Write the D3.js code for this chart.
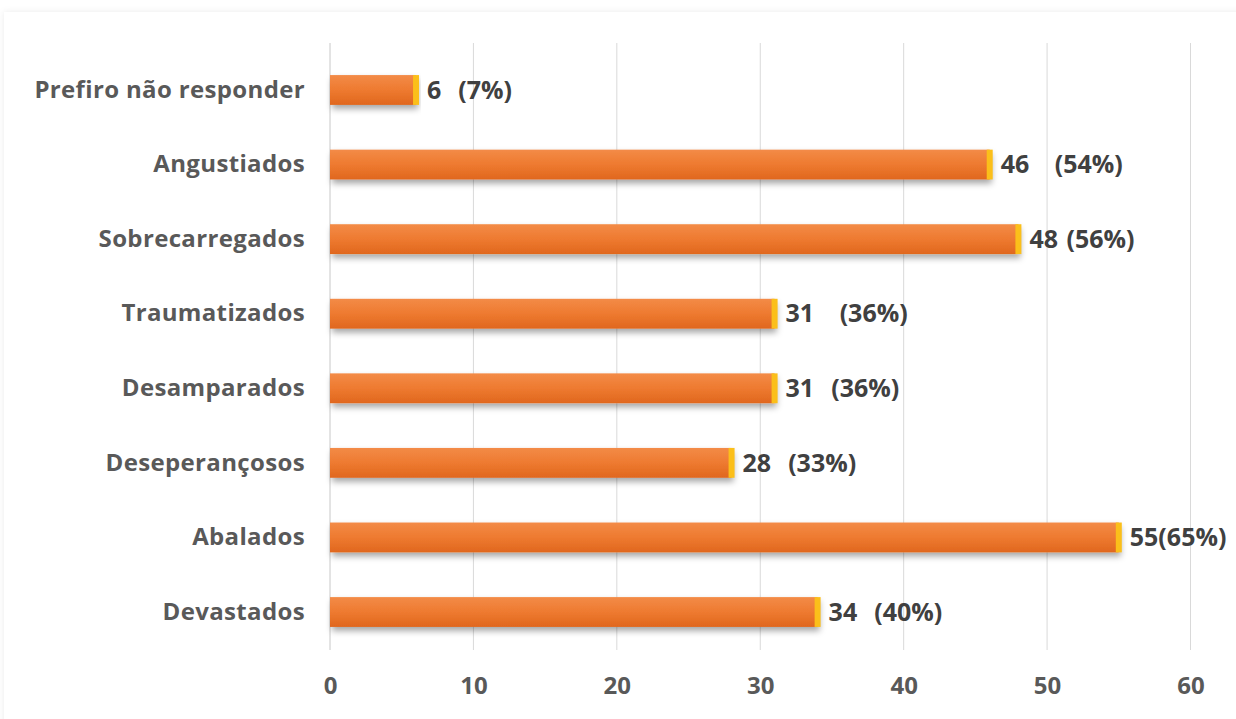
<!DOCTYPE html>
<html><head><meta charset="utf-8">
<script src="https://cdn.jsdelivr.net/npm/d3@7"></script>
<style>body{margin:0;background:#fff;} text{font-family:"Open Sans",sans-serif;font-weight:bold;}</style>
</head><body><svg id="c" width="1236" height="719"></svg>
<script>
const categories = ["Prefiro não responder","Angustiados","Sobrecarregados","Traumatizados","Desamparados","Deseperançosos","Abalados","Devastados"];
const values = [6,46,48,31,31,28,55,34];
const labels = ["6  (7%)","46   (54%)","48 (56%)","31   (36%)","31  (36%)","28  (33%)","55(65%)","34  (40%)"];
const ticks = [0,10,20,30,40,50,60];

const svg = d3.select("#c");
const defs = svg.append("defs");
const g1 = defs.append("linearGradient").attr("id","bg").attr("x1",0).attr("y1",0).attr("x2",0).attr("y2",1);
g1.append("stop").attr("offset","0%").attr("stop-color","#F38B47");
g1.append("stop").attr("offset","50%").attr("stop-color","#EE7A30");
g1.append("stop").attr("offset","100%").attr("stop-color","#E0671E");
const f = defs.append("filter").attr("id","sh").attr("x","-5%").attr("y","-30%").attr("width","110%").attr("height","190%");
f.append("feDropShadow").attr("dx",2).attr("dy",4).attr("stdDeviation",3).attr("flood-color","#000").attr("flood-opacity",0.35);
const fr = defs.append("filter").attr("id","fr").attr("x","-5%").attr("y","-5%").attr("width","110%").attr("height","110%");
fr.append("feDropShadow").attr("dx",0).attr("dy",0).attr("stdDeviation",3).attr("flood-color","#000").attr("flood-opacity",0.08);

svg.append("rect").attr("x",4).attr("y",12).attr("width",1240).attr("height",720).attr("fill","#fff").attr("filter","url(#fr)");

const x = d3.scaleLinear().domain([0,60]).range([330,1190.5]);
const y = d3.scaleBand().domain(categories).range([52.7,649.3]).paddingInner(0.6).paddingOuter(0.3);

// gridlines
svg.append("g").selectAll("line").data(ticks).join("line")
  .attr("x1",d=>x(d)).attr("x2",d=>x(d)).attr("y1",43).attr("y2",650)
  .attr("stroke",d=>d===0?"#c8c8c8":"#d9d9d9").attr("stroke-width",1);

// x axis
const xa = svg.append("g").attr("transform","translate(0,650)").call(d3.axisBottom(x).tickValues(ticks).tickSize(0).tickPadding(27));
xa.select(".domain").remove();
xa.selectAll("text").attr("font-size",24).attr("fill","#595959").attr("font-family","Open Sans").attr("font-weight","bold");

// y axis
const ya = svg.append("g").attr("transform","translate(330,0)").call(d3.axisLeft(y).tickSize(0).tickPadding(25));
ya.select(".domain").remove();
ya.selectAll("text").attr("font-size",24).attr("letter-spacing","0.35px").attr("fill","#595959").attr("font-family","Open Sans").attr("font-weight","bold");

const rows = svg.append("g").selectAll("g").data(categories).join("g");
rows.append("rect").attr("x",x(0)).attr("y",d=>y(d)).attr("width",(d,i)=>x(values[i])-x(0)).attr("height",y.bandwidth())
  .attr("fill","url(#bg)").attr("filter","url(#sh)");
rows.append("rect").attr("x",(d,i)=>x(values[i])-3).attr("y",d=>y(d)).attr("width",6).attr("height",y.bandwidth()).attr("fill","#FBBF1A");
rows.append("text").attr("x",(d,i)=>x(values[i])+11).attr("y",d=>y(d)+y.bandwidth()/2).attr("dy","0.35em")
  .attr("font-size",25).attr("word-spacing","2px").attr("fill","#404040").style("white-space","pre").attr("xml:space","preserve")
  .text((d,i)=>labels[i]);
</script></body></html>
